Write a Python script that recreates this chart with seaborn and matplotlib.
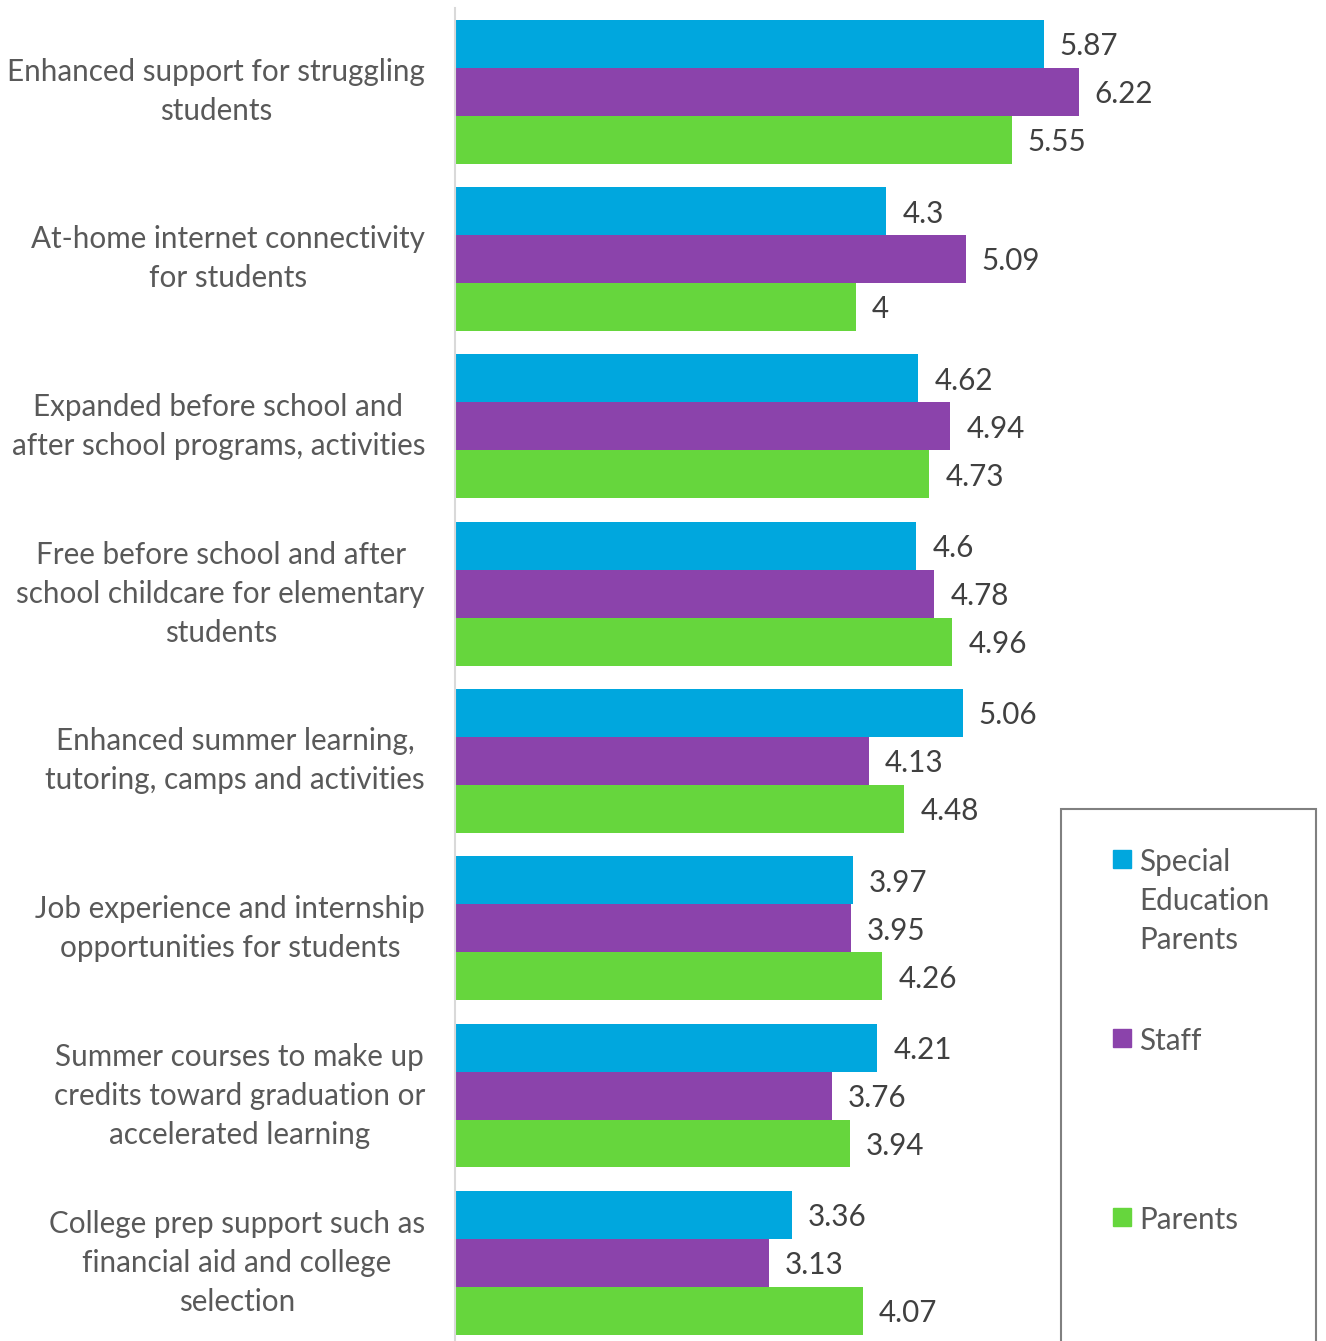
import pandas as pd
import seaborn as sns
import matplotlib.pyplot as plt
from matplotlib.patches import Rectangle

categories = [
    "Enhanced support for struggling\nstudents",
    "At-home internet connectivity\nfor students",
    "Expanded before school and\nafter school programs, activities",
    "Free before school and after\nschool childcare for elementary\nstudents",
    "Enhanced summer learning,\ntutoring, camps and activities",
    "Job experience and internship\nopportunities for students",
    "Summer courses to make up\ncredits toward graduation or\naccelerated learning",
    "College prep support such as\nfinancial aid and college\nselection",
]
groups = ["Special Education Parents", "Staff", "Parents"]
sped_parents = [5.87, 4.3, 4.62, 4.6, 5.06, 3.97, 4.21, 3.36]
staff = [6.22, 5.09, 4.94, 4.78, 4.13, 3.95, 3.76, 3.13]
parents = [5.55, 4, 4.73, 4.96, 4.48, 4.26, 3.94, 4.07]
colors = ["#00A7DE", "#8B43AB", "#66D63D"]

df = pd.DataFrame({
    "category": categories * 3,
    "group": [g for g in groups for _ in categories],
    "value": sped_parents + staff + parents,
})

sns.set_theme(style="white")
plt.rcParams['font.family'] = ['Lato', 'DejaVu Sans']

W, H = 1326, 1341
fig = plt.figure(figsize=(W / 100, H / 100), dpi=100)
ax = fig.add_axes([455 / W, 0, (W - 455) / W, 1 - 8 / H])

sns.barplot(data=df, y="category", x="value", hue="group", orient="h",
            palette=colors, width=0.86, gap=0, saturation=1,
            linewidth=0, legend=False, ax=ax)

for cont in ax.containers:
    labels = ax.bar_label(cont, fmt="%g", padding=11.5, fontsize=21.3, color="#404040")
    for t in labels:
        t.set_va("center_baseline")

ax.set_xlim(0, (W - 455) / 100.3)
ax.set_ylim(7.467, -0.5)
ax.set_xlabel("")
ax.set_ylabel("")
ax.set_xticks([])
ax.tick_params(axis="y", length=0, pad=21.6)
for lbl in ax.get_yticklabels():
    lbl.set_multialignment("center")
    lbl.set_fontsize(21.3)
    lbl.set_color("#595959")
    lbl.set_linespacing(1.48)
    lbl.set_va("center")

for side in ["top", "right", "bottom"]:
    ax.spines[side].set_visible(False)
ax.spines["left"].set_color("#D9D9D9")
ax.spines["left"].set_linewidth(1.5)

# legend box drawn by hand (handle sits on first line of wrapped label)
fig.patches.append(Rectangle((1061 / W, -0.05), (1316 - 1061) / W, 1.05 - 809 / H,
                             transform=fig.transFigure, fill=False,
                             edgecolor="#808080", linewidth=1.5))
leg_labels = ["Special\nEducation\nParents", "Staff", "Parents"]
leg_y = [860, 1039, 1218]
for lab, y, c in zip(leg_labels, leg_y, colors):
    fig.patches.append(Rectangle((1113 / W, 1 - (y + 8) / H), 18 / W, 18 / H,
                                 transform=fig.transFigure, color=c))
    fig.text(1139 / W, 1 - (y - 12) / H, lab, fontsize=21.3, color="#595959",
             va="top", ha="left", linespacing=1.48)

fig.savefig("out.png", dpi=100)
